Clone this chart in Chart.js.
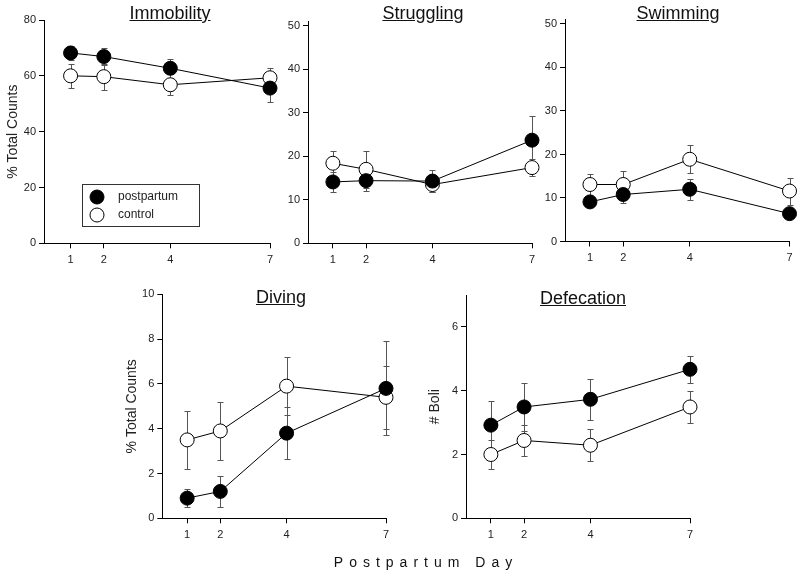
<!DOCTYPE html>
<html>
<head>
<meta charset="utf-8">
<script src="https://cdn.jsdelivr.net/npm/chart.js@4.4.0/dist/chart.umd.min.js"></script>
<style>
  html, body { margin: 0; padding: 0; background: #fff; }
  #page { position: relative; width: 800px; height: 574px; overflow: hidden; font-family: "Liberation Sans", Arial, sans-serif; }
  #page canvas { position: absolute; left: 0; top: 0; }
  .panel-title { position: absolute; transform: translateX(-50%); font-size: 18px; line-height: 20px; color: #111; text-decoration: underline; white-space: nowrap; }
  #xlabel { position: absolute; transform: translateX(-50%); font-size: 14px; line-height: 16px; letter-spacing: 6px; color: #111; white-space: nowrap; }
</style>
</head>
<body>
<div id="page">
  <canvas id="immobility" width="800" height="574"></canvas>
  <canvas id="struggling" width="800" height="574"></canvas>
  <canvas id="swimming" width="800" height="574"></canvas>
  <canvas id="diving" width="800" height="574"></canvas>
  <canvas id="defecation" width="800" height="574"></canvas>
  <div class="panel-title" style="left:170px; top:3px">Immobility</div>
  <div class="panel-title" style="left:423px; top:3px">Struggling</div>
  <div class="panel-title" style="left:678px; top:3px">Swimming</div>
  <div class="panel-title" style="left:281px; top:287px">Diving</div>
  <div class="panel-title" style="left:583px; top:288px">Defecation</div>
  <div id="xlabel" style="left:426px; top:554px">Postpartum Day</div>
</div>
<script>
const days = [1, 2, 4, 7];
const dayTicks = [1, 2, 4, 7];

const immobilityPostpartum = [68.2, 66.9, 62.7, 55.6];
const immobilityPostpartumSE = [2.5, 3.0, 3.5, 4.9];
const immobilityControl = [60.0, 59.7, 56.8, 59.3];
const immobilityControlSE = [4.3, 4.6, 3.7, 3.4];
const immobilityTicks = [0, 20, 40, 60, 80];

const strugglingPostpartum = [14.1, 14.4, 14.3, 23.7];
const strugglingPostpartumSE = [2.3, 2.4, 2.5, 5.5];
const strugglingControl = [18.4, 17.0, 13.5, 17.4];
const strugglingControlSE = [2.9, 4.3, 1.8, 2.0];
const strugglingTicks = [0, 10, 20, 30, 40, 50];

const swimmingPostpartum = [9.1, 10.8, 12.0, 6.4];
const swimmingPostpartumSE = [1.2, 2.0, 2.4, 1.0];
const swimmingControl = [13.1, 13.1, 18.9, 11.6];
const swimmingControlSE = [2.5, 3.1, 3.2, 3.1];
const swimmingTicks = [0, 10, 20, 30, 40, 50];

const divingPostpartum = [0.9, 1.2, 3.8, 5.8];
const divingPostpartumSE = [0.4, 0.7, 1.15, 2.1];
const divingControl = [3.5, 3.9, 5.9, 5.4];
const divingControlSE = [1.3, 1.3, 1.3, 1.4];
const divingTicks = [0, 2, 4, 6, 8, 10];

const defecationPostpartum = [2.92, 3.49, 3.73, 4.67];
const defecationPostpartumSE = [0.77, 0.75, 0.64, 0.43];
const defecationControl = [2.0, 2.44, 2.29, 3.49];
const defecationControlSE = [0.46, 0.5, 0.5, 0.5];
const defecationTicks = [0, 2, 4, 6];

const FONT = '"Liberation Sans", Arial, sans-serif';
const X_AXIS_HEIGHT = 30;
const legendRect = { left: 82, top: 184, width: 117, height: 42 };

// vertical SE bars, drawn under the markers
const errorBars = {
  id: 'errorBars',
  beforeDatasetsDraw(chart) {
    const ctx = chart.ctx;
    const xs = chart.scales.x, ys = chart.scales.y;
    ctx.save();
    ctx.strokeStyle = '#555';
    ctx.lineWidth = 1;
    chart.data.datasets.forEach(ds => {
      ds.data.forEach((pt, i) => {
        const se = ds.errors[i];
        const px = Math.round(xs.getPixelForValue(pt.x)) + 0.5;
        const top = Math.round(ys.getPixelForValue(pt.y + se)) + 0.5;
        const bot = Math.round(ys.getPixelForValue(pt.y - se)) + 0.5;
        ctx.beginPath();
        ctx.moveTo(px, top); ctx.lineTo(px, bot);
        ctx.moveTo(px - 3, top); ctx.lineTo(px + 3, top);
        ctx.moveTo(px - 3, bot); ctx.lineTo(px + 3, bot);
        ctx.stroke();
      });
    });
    ctx.restore();
  }
};

// boxed legend inside the Immobility panel
const legendBox = {
  id: 'legendBox',
  afterDraw(chart) {
    const ctx = chart.ctx;
    const r = legendRect;
    ctx.save();
    ctx.strokeStyle = '#333';
    ctx.lineWidth = 1;
    ctx.strokeRect(r.left + 0.5, r.top + 0.5, r.width, r.height);
    ctx.font = '12px ' + FONT;
    ctx.textBaseline = 'middle';
    chart.data.datasets.forEach((ds, i) => {
      const cy = r.top + 13 + i * 18;
      ctx.beginPath();
      ctx.arc(r.left + 15, cy, ds.pointRadius, 0, Math.PI * 2);
      ctx.fillStyle = ds.pointBackgroundColor;
      ctx.fill();
      ctx.strokeStyle = ds.pointBorderColor;
      ctx.stroke();
      ctx.fillStyle = '#222';
      ctx.fillText(ds.label, r.left + 36, cy);
    });
    ctx.restore();
  }
};

function series(values, errors, label, fill) {
  return {
    label: label,
    data: days.map((d, i) => ({ x: d, y: values[i] })),
    errors: errors,
    borderColor: '#000',
    borderWidth: 1,
    pointRadius: 7,
    pointBackgroundColor: fill,
    pointBorderColor: '#000',
    pointBorderWidth: 1,
    tension: 0,
    clip: false
  };
}

function makePanel(id, cfg) {
  const a = cfg.area;
  return new Chart(document.getElementById(id), {
    type: 'line',
    data: {
      datasets: [
        series(cfg.pp, cfg.ppSE, 'postpartum', '#000'),
        series(cfg.ctrl, cfg.ctrlSE, 'control', '#fff')
      ]
    },
    options: {
      responsive: false,
      animation: false,
      devicePixelRatio: 1,
      events: [],
      layout: {
        padding: {
          left: a.left - cfg.yWidth,
          top: a.top,
          right: 800 - a.right,
          bottom: 574 - a.bottom - X_AXIS_HEIGHT
        }
      },
      plugins: { legend: { display: false }, tooltip: { enabled: false } },
      scales: {
        x: {
          type: 'linear',
          min: cfg.xMin,
          max: 7,
          afterBuildTicks: s => { s.ticks = dayTicks.map(v => ({ value: v })); },
          afterFit: s => { s.height = X_AXIS_HEIGHT; },
          grid: { display: true, drawOnChartArea: false, drawTicks: true, tickLength: 5, color: '#000' },
          border: { display: true, color: '#000', width: 1 },
          ticks: { color: '#222', font: { size: 11, family: FONT }, padding: 5, maxRotation: 0, autoSkip: false, callback: v => String(v) }
        },
        y: {
          min: 0,
          max: cfg.yMax,
          afterBuildTicks: s => { s.ticks = cfg.yTicks.map(v => ({ value: v })); },
          afterFit: s => { s.width = cfg.yWidth; },
          grid: { display: true, drawOnChartArea: false, drawTicks: true, tickLength: 5, color: '#000' },
          border: { display: true, color: '#000', width: 1 },
          ticks: { color: '#222', font: { size: 11, family: FONT }, padding: 3, autoSkip: false, callback: v => String(v) },
          title: { display: !!cfg.yTitle, text: cfg.yTitle || '', color: '#222', font: { size: 14, family: FONT }, padding: 0 }
        }
      }
    },
    plugins: cfg.legend ? [errorBars, legendBox] : [errorBars]
  });
}

makePanel('immobility', {
  pp: immobilityPostpartum, ppSE: immobilityPostpartumSE,
  ctrl: immobilityControl, ctrlSE: immobilityControlSE,
  yTicks: immobilityTicks, yMax: 80, xMin: 0.2,
  area: { left: 44, right: 270, top: 20, bottom: 243.3 },
  yWidth: 39.4, yTitle: '% Total Counts', legend: true
});

makePanel('struggling', {
  pp: strugglingPostpartum, ppSE: strugglingPostpartumSE,
  ctrl: strugglingControl, ctrlSE: strugglingControlSE,
  yTicks: strugglingTicks, yMax: 51, xMin: 0.25,
  area: { left: 308, right: 532, top: 21.4, bottom: 243.3 },
  yWidth: 40
});

makePanel('swimming', {
  pp: swimmingPostpartum, ppSE: swimmingPostpartumSE,
  ctrl: swimmingControl, ctrlSE: swimmingControlSE,
  yTicks: swimmingTicks, yMax: 51, xMin: 0.25,
  area: { left: 565, right: 789.5, top: 19.6, bottom: 241.5 },
  yWidth: 40
});

makePanel('diving', {
  pp: divingPostpartum, ppSE: divingPostpartumSE,
  ctrl: divingControl, ctrlSE: divingControlSE,
  yTicks: divingTicks, yMax: 10, xMin: 0.25,
  area: { left: 162.3, right: 386, top: 294.3, bottom: 518.3 },
  yWidth: 38.2, yTitle: '% Total Counts'
});

makePanel('defecation', {
  pp: defecationPostpartum, ppSE: defecationPostpartumSE,
  ctrl: defecationControl, ctrlSE: defecationControlSE,
  yTicks: defecationTicks, yMax: 7, xMin: 0.25,
  area: { left: 466, right: 690, top: 295, bottom: 518.3 },
  yWidth: 39.4, yTitle: '# Boli'
});
</script>
</body>
</html>
